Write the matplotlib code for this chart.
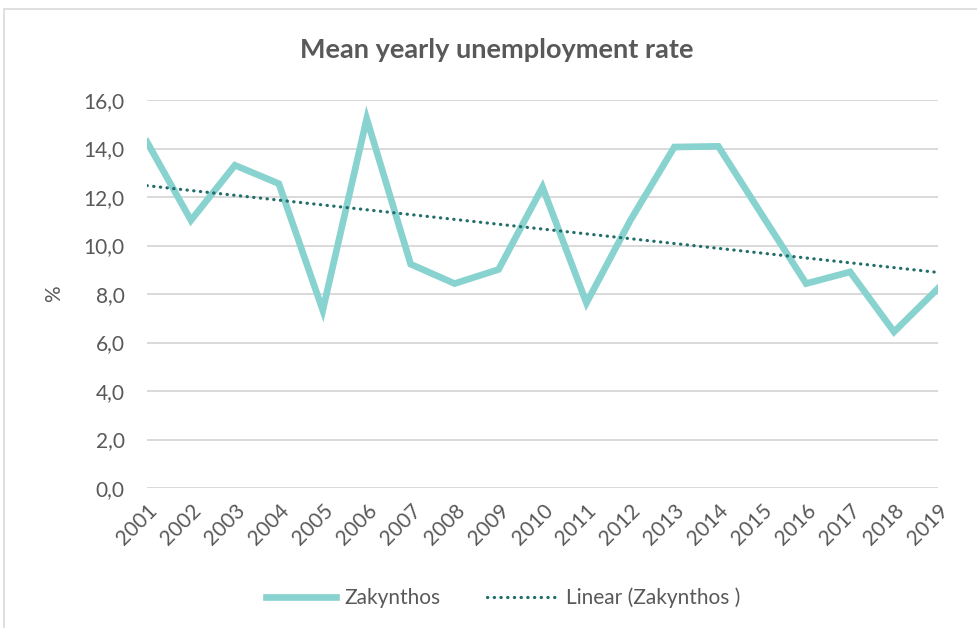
import matplotlib.pyplot as plt
import numpy as np
from matplotlib.patches import Rectangle

years = list(range(2001, 2020))
zakynthos = [14.27, 11.04, 13.31, 12.55, 7.33, 15.23, 9.23, 8.43, 9.01, 12.41,
             7.63, 11.04, 14.06, 14.09, 11.25, 8.43, 8.91, 6.44, 8.23]
yticks = [0, 2, 4, 6, 8, 10, 12, 14, 16]

plt.rcParams['font.family'] = ['Lato', 'DejaVu Sans']
grey = '#595959'

x = np.array(years)
y = np.array(zakynthos)
coef = np.polyfit(x, y, 1)
trend = np.polyval(coef, x)

fig = plt.figure(figsize=(9.78, 6.28), dpi=100)
fig.patches.append(Rectangle((0.004, -0.01), 1.2, 0.995, transform=fig.transFigure,
                             fill=False, edgecolor='#d9d9d9', linewidth=1.2))
ax = fig.add_axes([147 / 978, 1 - 488 / 628, (938 - 147) / 978, (488 - 100) / 628])

ax.plot(x, y, color='#88d3cf', linewidth=4.8, solid_joinstyle='miter', label='Zakynthos')
ax.plot(x, trend, color='#236e6a', linewidth=2.3, linestyle=(0, (0.1, 2.0)),
        dash_capstyle='round', label='Linear (Zakynthos )')

ax.set_xlim(2001, 2019)
ax.set_ylim(0, 16)
ax.set_yticks(yticks)
ax.set_yticklabels([f'{v:.1f}'.replace('.', ',') for v in yticks], fontsize=15, color=grey)
ax.set_xticks(years)
ax.set_xticklabels([str(v) for v in years], rotation=45, ha='right', rotation_mode='anchor',
                   fontsize=15, color=grey)
ax.tick_params(axis='y', length=0, pad=16)
ax.tick_params(axis='x', length=0, pad=9)
ax.grid(axis='y', color='#d9d9d9', linewidth=1.4)
ax.set_axisbelow(True)
for s in ax.spines.values():
    s.set_visible(False)

ax.set_ylabel('%', fontsize=15, color=grey, labelpad=14)
fig.text(497 / 978, 1 - 50 / 628, 'Mean yearly unemployment rate', ha='center', va='center',
         fontsize=19.5, fontweight='bold', color=grey)

fig.legend(loc='center', bbox_to_anchor=(503 / 978, 1 - 598 / 628), ncol=2, frameon=False,
           fontsize=15, labelcolor=grey, handlelength=3.4, columnspacing=2.2, handletextpad=0.4)

fig.savefig('out.png', dpi=100)
